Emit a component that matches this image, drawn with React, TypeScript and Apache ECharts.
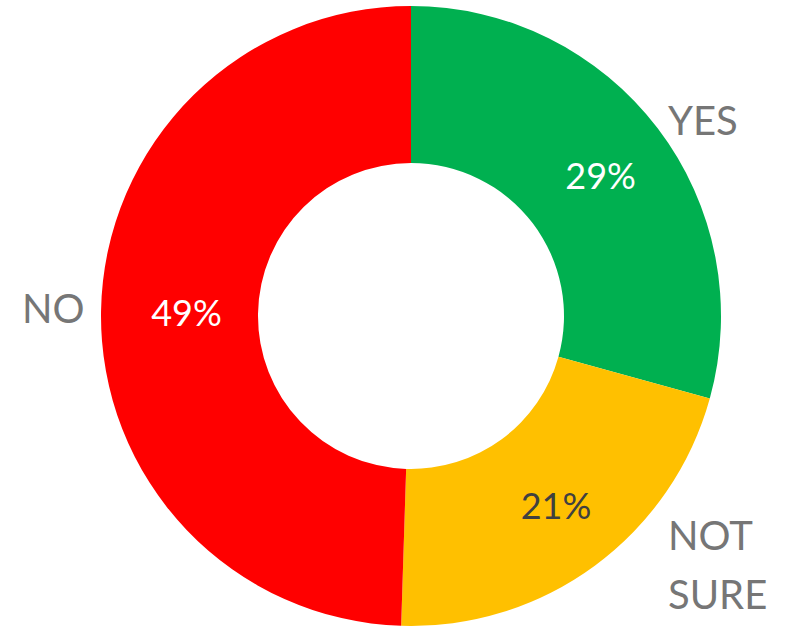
import React, { useEffect, useRef } from "react";
import * as echarts from "echarts";

const categories = ["YES", "NOT SURE", "NO"];
const values = [29, 21, 49];
const sliceColors = ["#00B050", "#FFC000", "#FF0000"];
const pctColors = ["#FFFFFF", "#404040", "#FFFFFF"];
const displayNames = ["YES", "NOT\nSURE", "NO"];

export default function App() {
  const ref = useRef<HTMLDivElement>(null);
  useEffect(() => {
    if (!ref.current) return;
    const chart = echarts.init(ref.current, null, { renderer: "svg" });
    const font = "Lato, 'Open Sans', sans-serif";
    const nudges = [[3, 1], [6, 0], [10, 0]];
    chart.setOption({
      animation: false,
      backgroundColor: "#FFFFFF",
      series: [
        {
          type: "pie",
          center: [411, 316],
          radius: [153, 310],
          startAngle: 90,
          clockwise: true,
          avoidLabelOverlap: false,
          labelLine: { show: false },
          itemStyle: { borderWidth: 0 },
          emphasis: { disabled: true },
          labelLayout: (p: any) => ({ dx: nudges[p.dataIndex][0], dy: nudges[p.dataIndex][1] }),
          data: categories.map((c, i) => ({
            name: c,
            value: values[i],
            itemStyle: { color: sliceColors[i] },
            label: {
              show: true,
              position: "inside",
              formatter: "{c}%",
              color: pctColors[i],
              fontSize: 36,
              fontFamily: font,
            },
          })),
        },
      ],
      graphic: [
        { type: "text", left: 668, top: 100, style: { text: displayNames[0], fontSize: 40, fontFamily: font, fill: "#767676" } },
        { type: "text", left: 668, top: 505, style: { text: displayNames[1], fontSize: 40, lineHeight: 59, fontFamily: font, fill: "#767676" } },
        { type: "text", left: 22, top: 288, style: { text: displayNames[2], fontSize: 40, fontFamily: font, fill: "#767676" } },
      ],
    });
    return () => chart.dispose();
  }, []);
  return <div ref={ref} style={{ position: "fixed", left: 0, top: 0, width: 788, height: 626 }} />;
}
